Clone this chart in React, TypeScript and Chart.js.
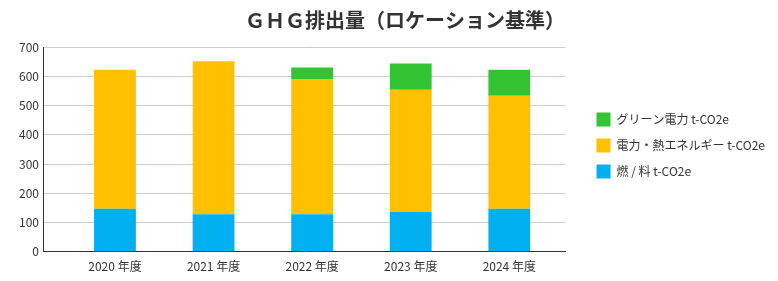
import React, { useEffect, useRef } from "react";
import { Chart, registerables } from "chart.js";

Chart.register(...registerables);

const categories = ["2020 年度", "2021 年度", "2022 年度", "2023 年度", "2024 年度"];
const fuel = [147, 128, 128, 137, 147];
const powerHeat = [475, 523, 461, 417, 386];
const greenPower = [0, 0, 41, 90, 89];
const yTicks = [0, 100, 200, 300, 400, 500, 600, 700];

const FONT = "'Noto Sans CJK JP', 'Noto Sans', sans-serif";

const shiftPlugin = {
  id: "shiftBoxes",
  beforeUpdate(chart: any) {
    const lg = chart.legend;
    if (lg && !lg._patched) {
      lg._patched = true;
      const fit = lg.fit.bind(lg);
      lg.fit = function () {
        fit();
        if (!this.isHorizontal()) this.width += 17;
      };
      const draw = lg.draw.bind(lg);
      lg.draw = function () {
        const ctx = chart.ctx;
        ctx.save();
        ctx.translate(19, 3);
        draw();
        ctx.restore();
      };
    }
    const tb = chart.titleBlock;
    if (tb && !tb._patched) {
      tb._patched = true;
      const draw = tb.draw.bind(tb);
      tb.draw = function () {
        const ctx = chart.ctx;
        ctx.save();
        ctx.translate(12, 0);
        draw();
        ctx.restore();
      };
    }
  },
};

export default function App() {
  const ref = useRef<HTMLCanvasElement | null>(null);
  useEffect(() => {
    document.body.style.margin = "0";
    const toXY = (arr: number[]) => arr.map((v, i) => ({ x: i, y: v }));
    const chart = new Chart(ref.current!, {
      type: "bar",
      data: {
        datasets: [
          { label: "燃 / 料 t-CO2e", data: toXY(fuel), backgroundColor: "#00B0F0" },
          { label: "電力・熱エネルギー t-CO2e", data: toXY(powerHeat), backgroundColor: "#FFC000" },
          { label: "グリーン電力 t-CO2e", data: toXY(greenPower), backgroundColor: "#33C433" },
        ],
      },
      plugins: [shiftPlugin],
      options: {
        animation: false,
        responsive: false,
        maintainAspectRatio: false,
        layout: { padding: { left: 14, right: 6, top: 4, bottom: 0 } },
        datasets: { bar: { barPercentage: 0.424, categoryPercentage: 1 } },
        plugins: {
          title: {
            display: true,
            text: "ＧＨＧ排出量（ロケーション基準）",
            color: "#333",
            font: { family: FONT, size: 20, weight: "bold" },
            padding: { top: 4, bottom: 15 },
          },
          legend: {
            position: "right",
            reverse: true,
            labels: {
              color: "#333",
              font: { family: FONT, size: 12 },
              boxWidth: 14,
              boxHeight: 14,
              padding: 12,
            },
          },
          tooltip: { enabled: false },
        },
        scales: {
          x: {
            type: "linear",
            stacked: true,
            offset: false,
            min: -0.72,
            max: 4.57,
            grid: { display: false, drawTicks: false },
            border: { display: true, color: "#333" },
            afterBuildTicks: (scale: any) => {
              scale.ticks = categories.map((_, i) => ({ value: i }));
            },
            ticks: {
              color: "#333",
              font: { family: FONT, size: 12, lineHeight: 1.1 },
              padding: 8,
              maxRotation: 0,
              callback: (v: any) => categories[Math.round(Number(v))] ?? "",
            },
          },
          y: {
            stacked: true,
            min: 0,
            max: 700,
            afterBuildTicks: (scale: any) => {
              scale.ticks = yTicks.map((v) => ({ value: v }));
            },
            grid: { color: "#cccccc", drawTicks: false },
            border: { display: true, color: "#333" },
            ticks: {
              color: "#333",
              font: { family: FONT, size: 12 },
              padding: 5,
            },
          },
        },
      },
    });
    return () => chart.destroy();
  }, []);
  return (
    <div style={{ position: "fixed", left: 0, top: 0, width: 778, height: 281 }}>
      <canvas ref={ref} width={778} height={281} />
    </div>
  );
}
